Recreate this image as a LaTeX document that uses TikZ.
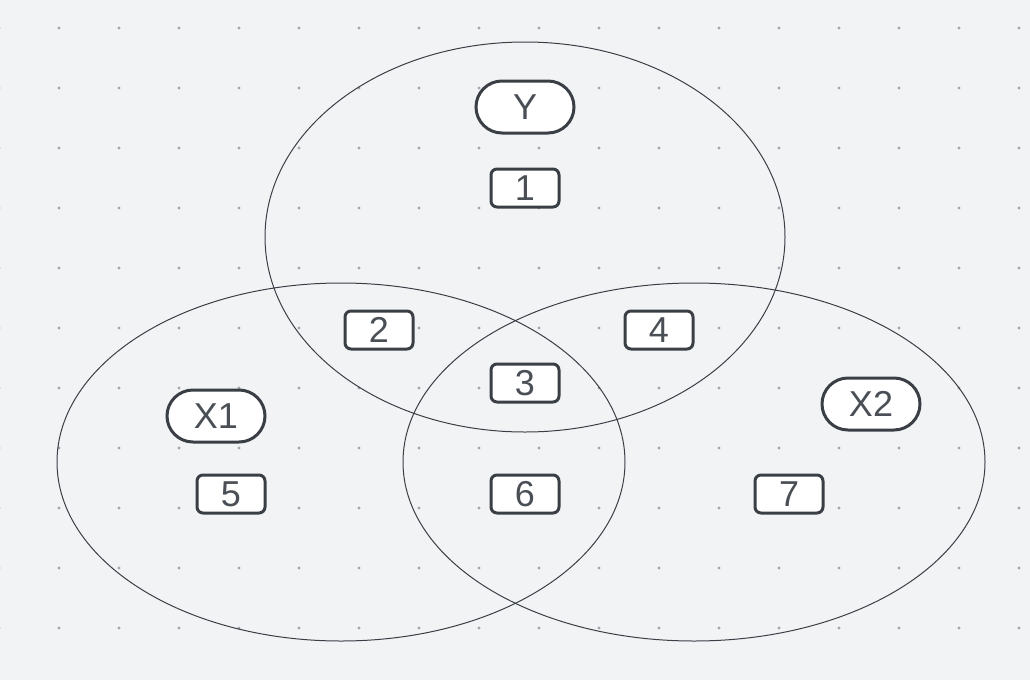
\documentclass[tikz,border=0pt]{standalone}
\usepackage{fontspec}
\setmainfont{Liberation Sans}
\definecolor{bg}{HTML}{F2F3F5}
\definecolor{dotc}{HTML}{A3A6AA}
\definecolor{edge}{HTML}{3A3F46}
\definecolor{txt}{HTML}{4A4F56}
\tikzset{
  setline/.style={draw=edge, line width=1pt},
  pill/.style={draw=edge, fill=white, line width=3pt, minimum width=98pt, minimum height=52pt, rounded corners=26pt, inner sep=0pt, text=txt, font=\fontsize{36}{36}\selectfont},
  numbox/.style={draw=edge, fill=white, line width=3pt, minimum width=68pt, minimum height=38pt, rounded corners=6pt, inner sep=0pt, text=txt, font=\fontsize{36}{36}\selectfont},
}
\begin{document}
\begin{tikzpicture}[x=1pt,y=-1pt]
\useasboundingbox (0,0) rectangle (1030,680);
\fill[bg] (0,0) rectangle (1030,680);
\foreach \xx in {-1,59,...,1019}{
  \foreach \yy in {28,88,...,628}{
    \fill[dotc] (\xx,\yy) circle[radius=1.6pt];
  }
}
\draw[setline] (525,237) ellipse[x radius=260pt, y radius=195pt];
\draw[setline] (341,462) ellipse[x radius=284pt, y radius=179pt];
\draw[setline] (694,462) ellipse[x radius=291pt, y radius=179pt];
\node[pill] (Y) at (525,107) {Y};
\node[pill] (X1) at (216,416) {X1};
\node[pill] (X2) at (871,404) {X2};
\node[numbox] (n1) at (525,188) {1};
\node[numbox] (n2) at (379,330) {2};
\node[numbox] (n3) at (525,383) {3};
\node[numbox] (n4) at (659,330) {4};
\node[numbox] (n5) at (231,494) {5};
\node[numbox] (n6) at (525,494) {6};
\node[numbox] (n7) at (789,494) {7};
\end{tikzpicture}
\end{document}
